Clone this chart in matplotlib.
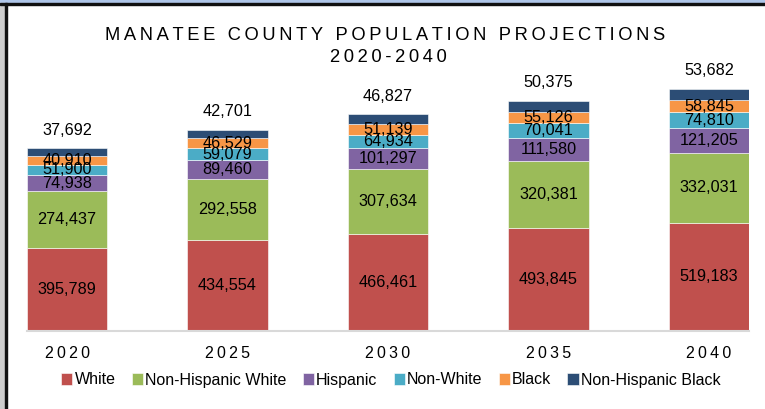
import matplotlib
matplotlib.use("Agg")
import matplotlib.pyplot as plt
from matplotlib.patches import Rectangle
import numpy as np

plt.rcParams["font.family"] = ["Liberation Sans", "DejaVu Sans"]

years = ["2020", "2025", "2030", "2035", "2040"]
series_names = ["White", "Non-Hispanic White", "Hispanic", "Non-White",
                "Black", "Non-Hispanic Black"]
white = [395789, 434554, 466461, 493845, 519183]
nh_white = [274437, 292558, 307634, 320381, 332031]
hispanic = [74938, 89460, 101297, 111580, 121205]
non_white = [51900, 59079, 64934, 70041, 74810]
black = [40910, 46529, 51139, 55126, 58845]
nh_black = [37692, 42701, 46827, 50375, 53682]
colors = ["#C0504D", "#9BBB59", "#8064A2", "#4BACC6", "#F79646", "#2C4D75"]

THIN = "\u2009"


def spaced(s):
    return THIN.join(s)


fig = plt.figure(figsize=(7.65, 4.09), dpi=100)
ax = fig.add_axes([27 / 765, 1 - 331 / 409, 722 / 765, 261 / 409])

# window frame from the screenshot
fig.patches.append(Rectangle((0, 1 - 3 / 409), 1, 3 / 409, transform=fig.transFigure,
                             color="#AFC6E9", zorder=0))
fig.patches.append(Rectangle((0, 0), 5 / 765, 1 - 3 / 409, transform=fig.transFigure,
                             color="#CDCDCD", zorder=0))
fig.patches.append(Rectangle((0, 1 - 5 / 409), 1, 2 / 409, transform=fig.transFigure,
                             color="#111111", zorder=1))
fig.patches.append(Rectangle((5 / 765, 0), 2 / 765, 1 - 3 / 409, transform=fig.transFigure,
                             color="#111111", zorder=1))

x = np.arange(len(years))
data = [white, nh_white, hispanic, non_white, black, nh_black]
bottom = np.zeros(len(years))
for name, vals, col in zip(series_names, data, colors):
    vals = np.array(vals)
    ax.bar(x, vals, 0.5, bottom=bottom, color=col, label=name,
           edgecolor="white", linewidth=0.4)
    if name == "Non-Hispanic Black":
        for xi, top, v in zip(x, bottom + vals, vals):
            ax.annotate(f"{v:,}", (xi, top), xytext=(0, 13),
                        textcoords="offset points", ha="center", va="center",
                        fontsize=11.7)
    else:
        for xi, b, v in zip(x, bottom, vals):
            ax.text(xi, b + v / 2, f"{v:,}", ha="center", va="center",
                    fontsize=11.7)
    bottom += vals

ax.set_xlim(-0.25, 4.25)
ax.set_ylim(0, 1.25e6)
ax.set_yticks([])
ax.set_xticks(x)
ax.set_xticklabels([spaced(y) for y in years], fontsize=11.5)
ax.tick_params(axis="x", length=0, pad=11)
for s in ["top", "left", "right"]:
    ax.spines[s].set_visible(False)
ax.spines["bottom"].set_color("#D9D9D9")
ax.spines["bottom"].set_linewidth(1.5)

fig.text(0.503, 1 - 36 / 409, spaced("MANATEE COUNTY POPULATION PROJECTIONS"),
         ha="center", va="center", fontsize=13.2)
fig.text(0.508, 1 - 58 / 409, spaced("2020-2040"), ha="center", va="center",
         fontsize=13.2)

fig.legend(loc="center", bbox_to_anchor=(0.511, 1 - 380 / 409), ncol=6,
           frameon=False, fontsize=11.5, handlelength=0.7, handleheight=0.7,
           handletextpad=0.15, columnspacing=1.0, borderaxespad=0)

fig.savefig("out.png", dpi=100)
